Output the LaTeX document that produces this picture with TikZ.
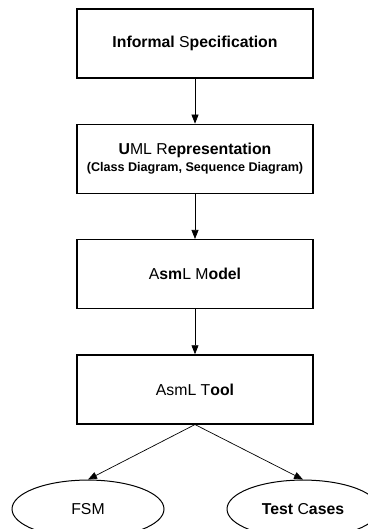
\documentclass[tikz,border=0pt]{standalone}
\usepackage{fontspec}
\setmainfont{Liberation Sans}
\usepackage{tikz}
\usetikzlibrary{shapes.geometric, arrows.meta, positioning}
\tikzstyle{stage} = [rectangle, draw, line width=1.3pt, minimum width=236pt, minimum height=69pt, text centered, font=\fontsize{15.8}{18}\selectfont]
\tikzstyle{result} = [ellipse, draw, line width=1pt, minimum width=152pt, minimum height=58pt, text centered, font=\fontsize{15.8}{18}\selectfont]
\tikzstyle{arrow} = [line width=0.7pt, -{Triangle[length=9pt, width=7pt]}]

\begin{document}
\begin{tikzpicture}[node distance=45pt, x=1pt, y=1pt]
        \useasboundingbox (0,0) rectangle (367,-529);

        \node (spec) [stage] at (195,-43.5) {\textbf{Informal} S\textbf{pecification}};
        \node (uml) [stage, below=of spec, align=center] {\textbf{U}ML R\textbf{epresentation}\\[-1pt]
            {\fontsize{12.6}{14}\selectfont\bfseries (Class Diagram, Sequence Diagram)}};
        \node (model) [stage, below=of uml] {A\textbf{sm}L M\textbf{odel}};
        \node (tool) [stage, below=of model] {AsmL T\textbf{ool}};

        \node (fsm) [result, below=55pt of tool, xshift=-107pt] {FSM};
        \node (tests) [result, below=55pt of tool, xshift=108pt] {\textbf{Test} C\textbf{ases}};

        \draw [arrow] (spec) -- (uml);
        \draw [arrow] (uml) -- (model);
        \draw [arrow] (model) -- (tool);
        \draw [arrow] (tool.south) -- (fsm.north);
        \draw [arrow] (tool.south) -- (tests.north);
    \end{tikzpicture}
\end{document}
